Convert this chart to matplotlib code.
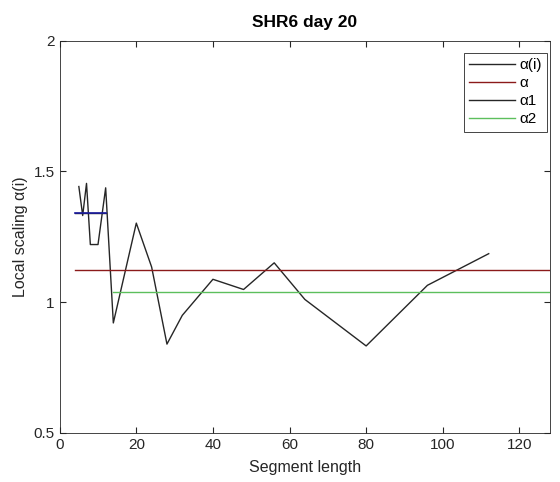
import numpy as np
import matplotlib
matplotlib.use("Agg")
import matplotlib.pyplot as plt

plt.rcParams['font.family'] = ['Liberation Sans', 'DejaVu Sans']

# segment lengths and local scaling exponents
seg = [5, 6, 7, 8, 10, 12, 14, 20, 24, 28, 32, 40, 48, 56, 64, 80, 96, 112]
alpha_i = [1.442, 1.331, 1.454, 1.220, 1.220, 1.437, 0.920, 1.302, 1.134, 0.839,
           0.949, 1.087, 1.048, 1.150, 1.010, 0.832, 1.064, 1.185]

alpha = 1.124
alpha_x = [4, 128]
alpha1 = 1.341
alpha1_x = [4, 12]
alpha2 = 1.038
alpha2_x = [14, 128]

fig = plt.figure(figsize=(5.6, 4.82), dpi=100)
ax = fig.add_axes([59.7/560, 1 - 432.7/482, (550 - 59.7)/560, (432.7 - 40.7)/482])

ax.plot(seg, alpha_i, color='#262626', lw=1.0, label='α(i)')
ax.plot(alpha_x, [alpha, alpha], color='#8b1a1a', lw=1.0, label='α')
ax.plot(alpha1_x, [alpha1, alpha1], color='#262626', lw=1.0, label='α1')
ax.plot(alpha2_x, [alpha2, alpha2], color='#5cbf5c', lw=1.0, label='α2')
# short blue fit over small segments
ax.plot(alpha1_x, [alpha1, alpha1], color='#1a1aa0', lw=1.2)

ax.set_xlim(0, 128)
ax.set_ylim(0.5, 2)
ax.set_xticks([0, 20, 40, 60, 80, 100, 120])
ax.set_yticks([0.5, 1, 1.5, 2])
ax.set_yticklabels(['0.5', '1', '1.5', '2'])
ax.tick_params(direction='in', top=True, right=True, labelsize=11, length=4,
               color='#262626', labelcolor='#262626')
for s in ax.spines.values():
    s.set_color('#262626')
    s.set_linewidth(0.6)

ax.set_xlabel('Segment length', fontsize=11.5, color='#262626', labelpad=6)
ax.set_ylabel('Local scaling α(i)', fontsize=11.5, color='#262626')
ax.set_title('SHR6 day 20', fontsize=12.5, fontweight='bold', pad=10)

leg = ax.legend(loc='upper right', bbox_to_anchor=(0.9945, 0.9694), borderaxespad=0,
                fontsize=11, fancybox=False, framealpha=1, edgecolor='#262626',
                handlelength=3.0, borderpad=0.35, labelspacing=0.27, handletextpad=0.3)
leg.get_frame().set_linewidth(0.6)

fig.savefig('out.png', dpi=100)
